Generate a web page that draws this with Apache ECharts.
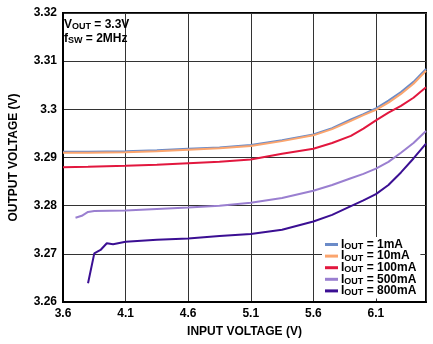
<!DOCTYPE html>
<html>
<head>
<meta charset="utf-8">
<script src="https://cdn.jsdelivr.net/npm/echarts@6/dist/echarts.min.js"></script>
<style>html,body{margin:0;padding:0;background:#fff}#c{width:433px;height:344px}</style>
</head>
<body>
<div id="c"></div>
<script>
// Input voltage (V) sample points
const xCommon = [3.6, 3.8, 4.1, 4.35, 4.6, 4.85, 5.1, 5.35, 5.6, 5.75, 5.9, 6.0, 6.1, 6.2, 6.3, 6.4, 6.5];
const y1mA   = [3.2912, 3.2912, 3.2913, 3.2915, 3.2918, 3.2921, 3.2926, 3.2936, 3.2948, 3.2961, 3.2979, 3.2990, 3.3002, 3.3018, 3.3036, 3.3057, 3.3084];
const y10mA  = [3.2910, 3.2910, 3.2911, 3.2913, 3.2916, 3.2919, 3.2924, 3.2934, 3.2946, 3.2959, 3.2976, 3.2988, 3.2999, 3.3014, 3.3032, 3.3053, 3.3080];
const y100mA = [3.2880, 3.2881, 3.2883, 3.2885, 3.2888, 3.2891, 3.2896, 3.2908, 3.2918, 3.2930, 3.2945, 3.2960, 3.2977, 3.2993, 3.3007, 3.3024, 3.3046];
const x500mA = [3.70, 3.75, 3.80, 3.85, 4.1, 4.35, 4.6, 4.85, 5.1, 5.35, 5.6, 5.75, 5.9, 6.0, 6.1, 6.2, 6.3, 6.4, 6.5];
const y500mA = [3.2775, 3.2779, 3.2787, 3.2789, 3.2790, 3.2793, 3.2796, 3.2800, 3.2806, 3.2816, 3.2831, 3.2843, 3.2857, 3.2866, 3.2877, 3.2891, 3.2910, 3.2930, 3.2955];
const x800mA = [3.80, 3.85, 3.90, 3.95, 4.0, 4.1, 4.35, 4.6, 4.85, 5.1, 5.35, 5.6, 5.75, 5.9, 6.0, 6.1, 6.2, 6.3, 6.4, 6.5];
const y800mA = [3.2639, 3.2701, 3.2708, 3.2722, 3.2720, 3.2725, 3.2729, 3.2732, 3.2737, 3.2741, 3.2750, 3.2767, 3.2781, 3.2799, 3.2811, 3.2824, 3.2843, 3.2869, 3.2898, 3.2929];
const seriesNames = ['1mA', '10mA', '100mA', '500mA', '800mA'];
const seriesColors = ['#6b8bc8', '#fba56e', '#e2173e', '#9a7fd0', '#3b0f93'];

const pairs = (xs, ys) => xs.map((x, i) => [x, ys[i]]);
const seriesData = [
  pairs(xCommon, y1mA), pairs(xCommon, y10mA), pairs(xCommon, y100mA),
  pairs(x500mA, y500mA), pairs(x800mA, y800mA)
];

const FONT = 'Arial, "Liberation Sans", sans-serif';
const richText = {
  a: { fontFamily: FONT, fontWeight: 'bold', fontSize: 12, color: '#000', lineHeight: 10 },
  s: { fontFamily: FONT, fontWeight: 'bold', fontSize: 9, color: '#000', lineHeight: 6, padding: [4, 0, 0, 0] }
};

const chart = echarts.init(document.getElementById('c'), null, { renderer: 'canvas' });
chart.setOption({
  animation: false,
  backgroundColor: '#fff',
  title: {
    text: '{a|V}{s|OUT}{a| = 3.3V}\n{a|f}{s|SW}{a| = 2MHz}',
    left: 64, top: 18, padding: 0,
    textStyle: { rich: {
      a: { fontFamily: FONT, fontWeight: 'bold', fontSize: 12, color: '#000', lineHeight: 14 },
      s: { fontFamily: FONT, fontWeight: 'bold', fontSize: 9, color: '#000', lineHeight: 10, padding: [4, 0, 0, 0] }
    } }
  },
  grid: { left: 58, right: 7, top: 13, bottom: 42, show: true, borderColor: '#000', borderWidth: 2 },
  legend: {
    orient: 'vertical',
    left: 322, top: 237,
    backgroundColor: '#fff',
    padding: [1, 4, 1, 3],
    itemGap: -1.4,
    itemWidth: 13, itemHeight: 3,
    icon: 'rect',
    data: seriesNames,
    formatter: n => '{a|I}{s|OUT}{a| = ' + n + '}',
    textStyle: { rich: richText, padding: [0, 0, 0, -2] }
  },
  xAxis: {
    type: 'value', min: 3.6, max: 6.5, interval: 0.5,
    name: 'INPUT VOLTAGE (V)', nameLocation: 'middle', nameGap: 24,
    nameTextStyle: { fontFamily: FONT, fontWeight: 'bold', fontSize: 12, color: '#000' },
    axisLine: { lineStyle: { color: '#000', width: 2 } },
    axisTick: { show: false },
    axisLabel: { margin: 6, showMaxLabel: false, fontFamily: FONT, fontWeight: 'bold', fontSize: 12, color: '#000',
      formatter: v => v.toFixed(1) },
    splitLine: { show: true, lineStyle: { color: '#333', width: 1 } }
  },
  yAxis: {
    type: 'value', min: 3.26, max: 3.32, interval: 0.01,
    name: 'OUTPUT VOLTAGE (V)', nameLocation: 'middle', nameGap: 43, nameRotate: 90,
    nameTextStyle: { fontFamily: FONT, fontWeight: 'bold', fontSize: 12, color: '#000' },
    axisLine: { show: true, lineStyle: { color: '#000', width: 2 } },
    axisTick: { show: false },
    axisLabel: { margin: 6, fontFamily: FONT, fontWeight: 'bold', fontSize: 12, color: '#000',
      formatter: v => String(parseFloat(v.toFixed(2))) },
    splitLine: { show: true, lineStyle: { color: '#333', width: 1 } }
  },
  series: seriesNames.map((n, i) => ({
    name: n, type: 'line', data: seriesData[i],
    showSymbol: false, symbol: 'none',
    lineStyle: { color: seriesColors[i], width: 2 },
    itemStyle: { color: seriesColors[i] },
    z: 2 + i
  }))
});
</script>
</body>
</html>
